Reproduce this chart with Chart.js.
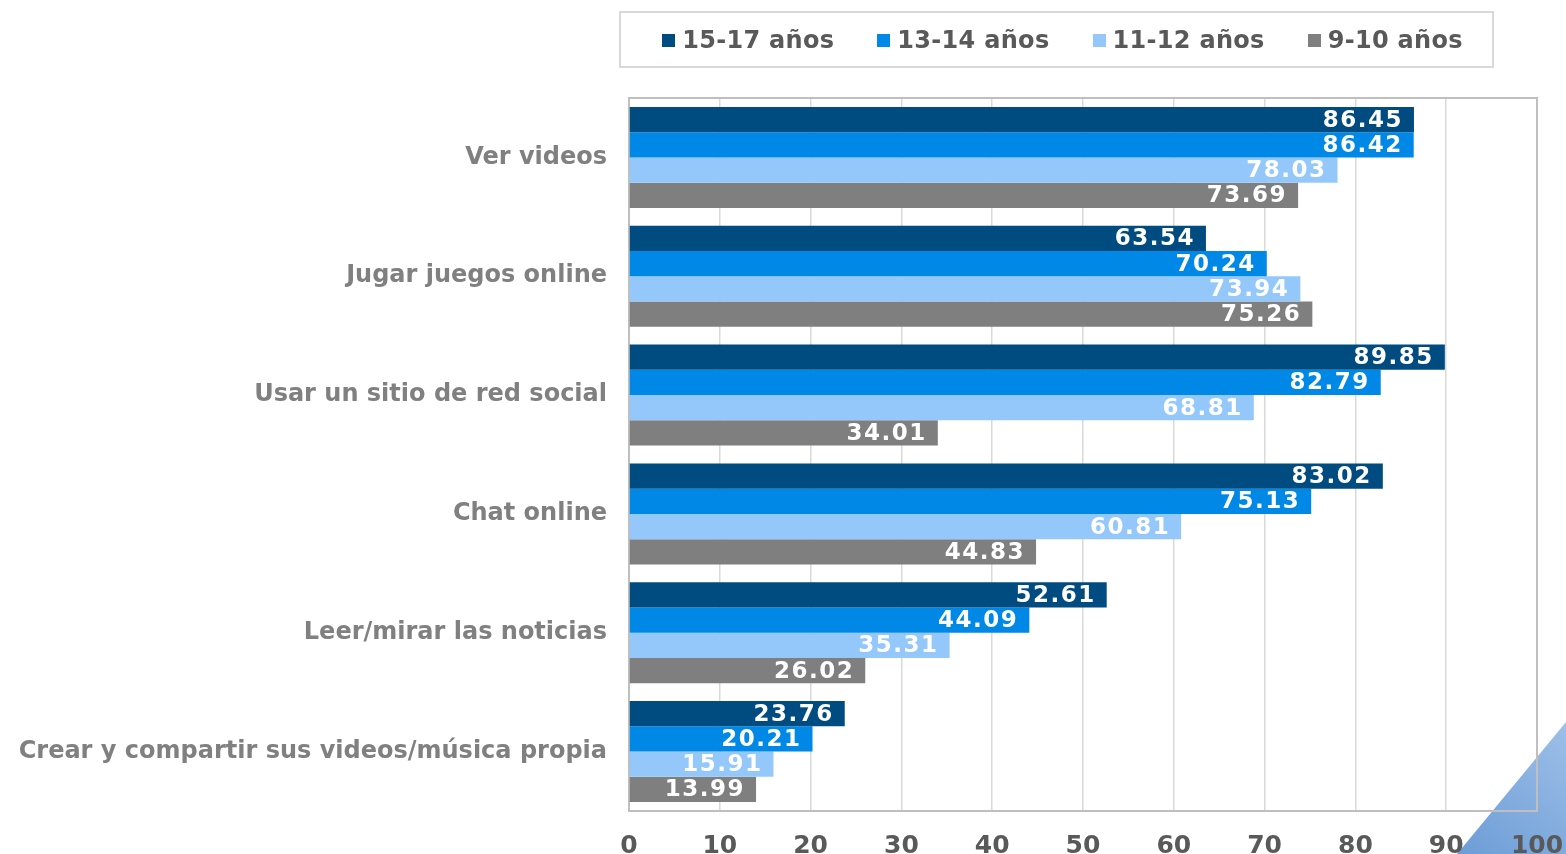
<!DOCTYPE html>
<html lang="es">
<head>
  <meta charset="UTF-8">
  <title>Actividades online por edad</title>
  <style>
    body {
      margin: 0;
      background: #ffffff;
      font-family: 'DejaVu Sans', sans-serif;
    }

    .wrap {
      position: relative;
      width: 1566px;
      height: 854px;
      overflow: hidden;
    }

    .legend {
      position: absolute;
      left: 619px;
      top: 11px;
      width: 875px;
      height: 57px;
      border: 2px solid #d9d9d9;
      display: flex;
      justify-content: center;
      align-items: center;
      gap: 43px;
      font-weight: bold;
      font-size: 24px;
      letter-spacing: 0.3px;
      color: #595959;
      box-sizing: border-box;
      padding-left: 12px;
    }

    .legend span.box {
      display: inline-block;
      width: 13px;
      height: 13px;
      margin-right: 7px;
      vertical-align: 1px;
    }
  </style>
</head>
<body>
  <div class="wrap">
    <canvas id="chart" width="1566" height="854"></canvas>
    <div class="legend" id="legend"></div>
  </div>

  <script src="https://cdn.jsdelivr.net/npm/chart.js"></script>
  <script>
    const categories = [
      'Ver videos',
      'Jugar juegos online',
      'Usar un sitio de red social',
      'Chat online',
      'Leer/mirar las noticias',
      'Crear y compartir sus videos/música propia'
    ];
    const seriesNames = ['15-17 años', '13-14 años', '11-12 años', '9-10 años'];
    const seriesColors = ['#004b80', '#0088e6', '#94c8fb', '#7f7f7f'];

    const age15to17 = [86.45, 63.54, 89.85, 83.02, 52.61, 23.76];
    const age13to14 = [86.42, 70.24, 82.79, 75.13, 44.09, 20.21];
    const age11to12 = [78.03, 73.94, 68.81, 60.81, 35.31, 15.91];
    const age9to10 = [73.69, 75.26, 34.01, 44.83, 26.02, 13.99];
    const seriesValues = [age15to17, age13to14, age11to12, age9to10];

    const xTicks = [0, 10, 20, 30, 40, 50, 60, 70, 80, 90, 100];

    // legend box (html, above the plot)
    const legendEl = document.getElementById('legend');
    seriesNames.forEach((name, i) => {
      const item = document.createElement('div');
      item.innerHTML = '<span class="box" style="background:' + seriesColors[i] + '"></span>' + name;
      legendEl.appendChild(item);
    });

    // slide decoration in the bottom right corner, under everything else
    const cornerShape = {
      id: 'cornerShape',
      beforeDraw(chart) {
        const ctx = chart.ctx;
        ctx.save();
        const g = ctx.createLinearGradient(1460, 854, 1566, 724);
        g.addColorStop(0, '#6d9dd6');
        g.addColorStop(1, '#9dbfe8');
        ctx.fillStyle = g;
        ctx.beginPath();
        ctx.moveTo(1457, 854);
        ctx.lineTo(1566, 722);
        ctx.lineTo(1566, 854);
        ctx.closePath();
        ctx.fill();
        ctx.restore();
      }
    };

    // plot border, drawn under the bars
    const plotBorder = {
      id: 'plotBorder',
      beforeDatasetsDraw(chart) {
        const a = chart.chartArea;
        const ctx = chart.ctx;
        ctx.save();
        ctx.strokeStyle = '#bfbfbf';
        ctx.lineWidth = 2;
        ctx.strokeRect(a.left, a.top, a.right - a.left, a.bottom - a.top);
        ctx.restore();
      }
    };

    // value labels inside the end of each bar
    const barLabels = {
      id: 'barLabels',
      afterDatasetsDraw(chart) {
        const ctx = chart.ctx;
        ctx.save();
        ctx.font = 'bold 23px "DejaVu Sans"';
        ctx.letterSpacing = '1.5px';
        ctx.fillStyle = '#ffffff';
        ctx.textAlign = 'right';
        ctx.textBaseline = 'middle';
        chart.data.datasets.forEach((ds, i) => {
          chart.getDatasetMeta(i).data.forEach((bar, j) => {
            ctx.fillText(ds.data[j].toFixed(2), bar.x - 11, bar.y + 1);
          });
        });
        ctx.restore();
      }
    };

    new Chart(document.getElementById('chart'), {
      type: 'bar',
      data: {
        labels: categories,
        datasets: seriesNames.map((name, i) => ({
          label: name,
          data: seriesValues[i],
          backgroundColor: seriesColors[i],
          categoryPercentage: 0.85,
          barPercentage: 1.0
        }))
      },
      options: {
        indexAxis: 'y',
        responsive: false,
        animation: false,
        layout: { padding: { top: 98, right: 29, left: 0, bottom: 0 } },
        plugins: {
          legend: { display: false },
          tooltip: { enabled: false }
        },
        scales: {
          x: {
            min: 0,
            max: 100,
            afterBuildTicks(s) { s.ticks = xTicks.map(v => ({ value: v })); },
            afterFit(s) {
              s.height = 43;
              s.paddingLeft = 0;
              s.paddingRight = 0;
            },
            grid: { color: '#d9d9d9', lineWidth: 1.5, drawTicks: false },
            border: { display: false },
            ticks: {
              padding: 20,
              autoSkip: false,
              maxRotation: 0,
              color: '#595959',
              font: { family: 'DejaVu Sans', size: 25, weight: 'bold' }
            }
          },
          y: {
            afterFit(s) {
              s.width = 629;
              s.paddingTop = 0;
              s.paddingBottom = 0;
            },
            grid: { display: false, drawTicks: false },
            border: { display: false },
            ticks: {
              padding: 22,
              color: '#808080',
              font: { family: 'DejaVu Sans', size: 24, weight: 'bold' }
            }
          }
        }
      },
      plugins: [cornerShape, plotBorder, barLabels]
    });
  </script>
</body>
</html>
